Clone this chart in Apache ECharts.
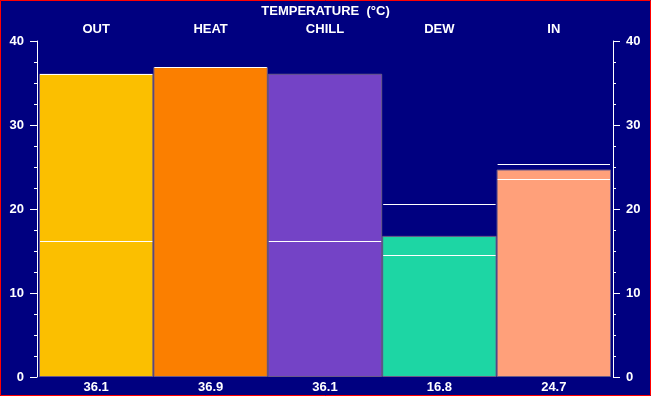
<!DOCTYPE html>
<html>
<head>
<meta charset="utf-8">
<script src="https://cdn.jsdelivr.net/npm/echarts@6/dist/echarts.min.js"></script>
<style>
html,body{margin:0;padding:0;background:#000080;}
#chart{width:651px;height:396px;}
</style>
</head>
<body>
<div id="chart"></div>
<script>
const titleText = 'TEMPERATURE  (°C)';
const categories = ['OUT', 'HEAT', 'CHILL', 'DEW', 'IN'];
const values = [36.1, 36.9, 36.1, 16.8, 24.7];
const highs = [36.1, 36.9, null, 20.6, 25.4];
const lows = [16.2, null, 16.2, 14.5, 23.6];
const barColors = ['#FBBF00', '#FB7F00', '#7443C6', '#1DD6A4', '#FFA07A'];
const yTicks = [0, 10, 20, 30, 40];

const FONT = 'Liberation Sans';
const FS = 13;
const lineData = [];
categories.forEach((c, i) => {
  if (highs[i] != null) lineData.push([i, highs[i]]);
  if (lows[i] != null) lineData.push([i, lows[i]]);
});

const yAxisCommon = {
  type: 'value',
  min: yTicks[0],
  max: yTicks[yTicks.length - 1],
  interval: 10,
  offset: 2,
  axisLine: {show: true, lineStyle: {color: '#ffffff', width: 1}},
  axisTick: {show: true, length: 7, lineStyle: {color: '#ffffff'}},
  minorTick: {show: true, splitNumber: 4, length: 3, lineStyle: {color: '#ffffff'}},
  splitLine: {show: false},
  axisLabel: {color: '#ffffff', fontFamily: FONT, fontWeight: 'bold', fontSize: FS, margin: 13}
};

const chart = echarts.init(document.getElementById('chart'), null, {renderer: 'canvas'});
chart.setOption({
  backgroundColor: '#000080',
  animation: false,
  title: {
    text: titleText, left: 'center', top: 0,
    textStyle: {color: '#ffffff', fontFamily: FONT, fontWeight: 'bold', fontSize: FS}
  },
  grid: {left: 39, right: 40, top: 41, bottom: 19},
  xAxis: [
    {
      type: 'category', data: categories, position: 'top',
      axisLine: {show: false}, axisTick: {show: false},
      axisLabel: {color: '#ffffff', fontFamily: FONT, fontWeight: 'bold', fontSize: FS, margin: 5}
    },
    {
      type: 'category', data: values.map(v => v.toFixed(1)), position: 'bottom',
      axisLine: {show: false}, axisTick: {show: false},
      axisLabel: {color: '#ffffff', fontFamily: FONT, fontWeight: 'bold', fontSize: FS, margin: 4}
    }
  ],
  yAxis: [
    Object.assign({}, yAxisCommon, {position: 'left'}),
    Object.assign({}, yAxisCommon, {position: 'right'})
  ],
  graphic: [{
    type: 'rect', z: 100, silent: true,
    shape: {x: 0.5, y: 0.5, width: 650, height: 395},
    style: {fill: null, stroke: '#ff0000', lineWidth: 1}
  }],
  series: [
    {
      type: 'bar', xAxisIndex: 0, yAxisIndex: 0,
      barWidth: '100%', barGap: '0%',
      data: values.map((v, i) => ({value: v, itemStyle: {color: barColors[i]}})),
      itemStyle: {borderColor: '#6a5a88', borderWidth: 1}
    },
    {
      type: 'custom', xAxisIndex: 0, yAxisIndex: 0, z: 5,
      data: lineData,
      renderItem: function (params, api) {
        const p = api.coord([api.value(0), api.value(1)]);
        const w = api.size([1, 0])[0];
        const y = Math.round(p[1]) + 0.5;
        return {
          type: 'line',
          shape: {x1: p[0] - w / 2 + 1, y1: y, x2: p[0] + w / 2 - 1, y2: y},
          style: {stroke: '#ffffff', lineWidth: 1}
        };
      }
    }
  ]
});
</script>
</body>
</html>
